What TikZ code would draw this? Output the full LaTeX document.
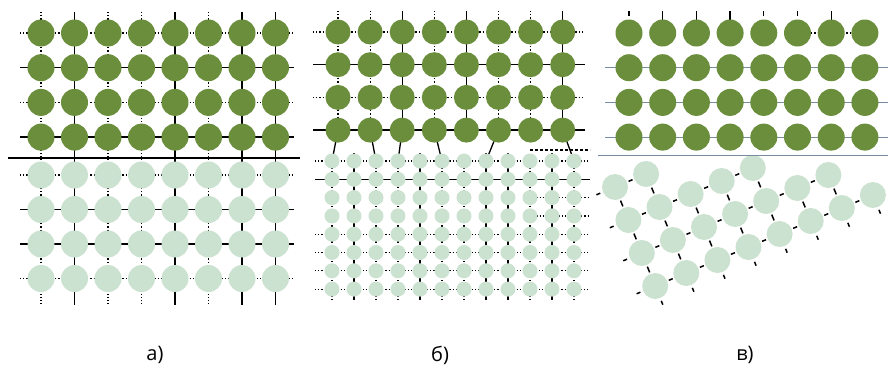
\documentclass[tikz,border=0pt]{standalone}
\usepackage{fontspec}
\newfontfamily\labelfont{Open Sans}
\definecolor{dkgreen}{RGB}{106,142,59}
\definecolor{ltgreen}{RGB}{204,226,208}
\definecolor{greyline}{RGB}{120,140,160}
\pgfdeclarelayer{back}
\pgfdeclarelayer{bg}
\pgfsetlayers{back,bg,main}
\begin{document}
\begin{tikzpicture}[x=1pt,y=-1pt,
  dk/.style={circle,fill=dkgreen,minimum size=27pt,inner sep=0pt},
  dkb/.style={circle,fill=dkgreen,minimum size=25pt,inner sep=0pt},
  lt/.style={circle,fill=ltgreen,minimum size=27pt,inner sep=0pt},
  lts/.style={circle,fill=ltgreen,minimum size=15pt,inner sep=0pt},
  ltr/.style={circle,fill=ltgreen,minimum size=26pt,inner sep=0pt},
  gridsolid/.style={draw=black,line width=1.3pt},
  griddot/.style={draw=black,line width=1.2pt,dotted},
  bline/.style={draw=black,line width=1.4pt},
  gline/.style={draw=greyline,line width=0.9pt},
  bond/.style={draw=black,line width=1.5pt,shorten <=1.5pt,shorten >=1.5pt},
  stub/.style={draw=black,line width=1.5pt},
  lbl/.style={font=\labelfont\fontsize{20}{24}\selectfont,inner sep=0pt}]
\useasboundingbox (0,0) rectangle (888,372);
\begin{pgfonlayer}{back}
\fill[white] (0,0) rectangle (888,372);
\end{pgfonlayer}

% ---------- panel a ----------
\foreach \i in {0,...,7} \foreach \j in {0,...,3} {
  \node[dk] (ag-\i-\j) at ({41+33.5*\i},{33+34.7*\j}) {};
  \node[lt] (al-\i-\j) at ({41+33.5*\i},{175+34.5*\j}) {};
}
\begin{pgfonlayer}{bg}
  \foreach \i in {1,4,6,7}
    \draw[gridsolid,shorten <=-21pt,shorten >=-26pt] (ag-\i-0.center) -- (al-\i-3.center);
  \foreach \i in {0,2,3,5}
    \draw[griddot,shorten <=-21pt,shorten >=-26pt] (ag-\i-0.center) -- (al-\i-3.center);
  \foreach \j in {1,3}
    \draw[gridsolid,shorten <=-21pt,shorten >=-18pt] (ag-0-\j.center) -- (ag-7-\j.center);
  \foreach \j in {0,2}
    \draw[griddot,shorten <=-21pt,shorten >=-18pt] (ag-0-\j.center) -- (ag-7-\j.center);
  \foreach \j in {1,2}
    \draw[gridsolid,shorten <=-21pt,shorten >=-18pt] (al-0-\j.center) -- (al-7-\j.center);
  \foreach \j in {0,3}
    \draw[griddot,shorten <=-21pt,shorten >=-18pt] (al-0-\j.center) -- (al-7-\j.center);
\end{pgfonlayer}
\draw[bline] (8,158) -- (300,158);

% ---------- panel b ----------
\foreach \i in {0,...,7} \foreach \j in {0,...,3} {
  \node[dkb] (bg-\i-\j) at ({338+32.1*\i},{32+32.7*\j}) {};
}
\foreach \k in {0,...,11} \foreach \j in {0,...,7} {
  \node[lts] (bl-\k-\j) at ({332+22*\k},{161+18.3*\j}) {};
}
\begin{pgfonlayer}{bg}
  \foreach \i in {2,4,7}
    \draw[gridsolid,shorten <=-21pt] (bg-\i-0.center) -- (bg-\i-3.center);
  \foreach \i in {0,1,3,5,6}
    \draw[griddot,shorten <=-21pt] (bg-\i-0.center) -- (bg-\i-3.center);
  \foreach \j in {1,3}
    \draw[gridsolid,shorten <=-25pt,shorten >=-22pt] (bg-0-\j.center) -- (bg-7-\j.center);
  \foreach \j in {0,2}
    \draw[griddot,shorten <=-25pt,shorten >=-22pt] (bg-0-\j.center) -- (bg-7-\j.center);
  \foreach \k in {1,4,7,8,10}
    \draw[gridsolid,shorten <=-8pt,shorten >=-11pt] (bl-\k-0.center) -- (bl-\k-7.center);
  \foreach \k in {0,2,3,5,6,9,11}
    \draw[griddot,shorten <=-6pt,shorten >=-11pt] (bl-\k-0.center) -- (bl-\k-7.center);
  \draw[gridsolid,shorten <=-17pt,shorten >=-16pt] (bl-0-1.center) -- (bl-11-1.center);
  \foreach \j in {0,4,5,6,7}
    \draw[griddot,shorten <=-17pt,shorten >=-16pt] (bl-0-\j.center) -- (bl-11-\j.center);
  \foreach \j in {2,3}
    \draw[griddot,shorten >=-16pt] (bl-9-\j.center) -- (bl-11-\j.center);
  \foreach \i/\k in {0/0,1/2,2/3,3/5,5/7,7/11}
    \draw[gridsolid] (bg-\i-3.center) -- (bl-\k-0.center);
\end{pgfonlayer}
\draw[black,line width=1.1pt,densely dashed] (530,150) -- (590,150);

% ---------- panel c ----------
\foreach \i in {0,...,7} \foreach \j in {0,...,3} {
  \node[dk] (cg-\i-\j) at ({629+33.7*\i},{33+34.7*\j}) {};
}
\foreach \i/\j in {0/0,1/0,0/1,1/1,2/1,3/1,4/1,0/2,1/2,2/2,3/2,4/2,5/2,6/2,
                   0/3,1/3,2/3,3/3,4/3,5/3,6/3,7/3} {
  \node[ltr] (cl-\i-\j) at ({615+31.1*\i+13.4*\j},{187-13.0*\i+33.0*\j}) {};
}
\begin{pgfonlayer}{bg}
  \foreach \j in {1,2,3}
    \draw[gline,shorten <=-24pt,shorten >=-23pt] (cg-0-\j.center) -- (cg-7-\j.center);
  \foreach \i in {1,2,3,6}
    \draw[gridsolid,shorten <=13pt] (cg-\i-0.center) -- ++(0,-22);
  \foreach \i in {0,4,5}
    \draw[gridsolid,shorten <=17pt] (cg-\i-0.center) -- ++(0,-22);
  \draw[griddot,shorten <=-20pt] (cg-6-0.center) -- (cg-7-0.center);
  % bonds along u
  \draw[bond] (cl-0-0) -- (cl-1-0);
  \foreach \i [count=\n from 1] in {0,...,3} \draw[bond] (cl-\i-1) -- (cl-\n-1);
  \foreach \i [count=\n from 1] in {0,...,5} \draw[bond] (cl-\i-2) -- (cl-\n-2);
  \foreach \i [count=\n from 1] in {0,...,6} \draw[bond] (cl-\i-3) -- (cl-\n-3);
  % bonds along v
  \foreach \i in {0,1} \draw[bond] (cl-\i-0) -- (cl-\i-1);
  \foreach \i in {0,...,4} \draw[bond] (cl-\i-1) -- (cl-\i-2);
  \foreach \i in {0,...,6} \draw[bond] (cl-\i-2) -- (cl-\i-3);
  % outer stubs
  \foreach \i in {0,...,7} \draw[stub,shorten <=16pt] (cl-\i-3.center) -- ++(7.6,18.7);
  \foreach \j in {0,...,3} \draw[stub,shorten <=16pt] (cl-0-\j.center) -- ++(-18.6,7.8);
\end{pgfonlayer}
\draw[gline] (598,155) -- (888,155);

% ---------- labels ----------
\node[lbl] (la) at (155,355) {а)};
\node[lbl] (lb) at (440,355) {б)};
\node[lbl] (lc) at (745,355) {в)};
\end{tikzpicture}
\end{document}
